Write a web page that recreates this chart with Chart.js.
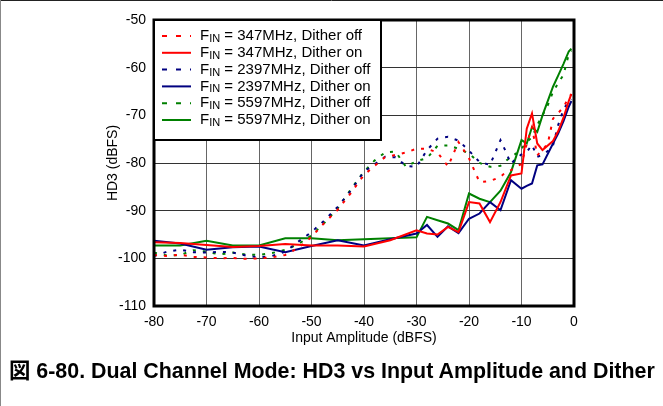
<!DOCTYPE html>
<html>
<head>
<meta charset="utf-8">
<script src="https://cdn.jsdelivr.net/npm/chart.js@4.4.0/dist/chart.umd.min.js"></script>
<style>
  html, body { margin: 0; padding: 0; background: #fff; }
  #wrap { position: relative; width: 663px; height: 406px; }
  #caption {
    position: absolute; left: 9px; top: 353px;
    font: bold 21.4px "Liberation Sans", "Noto Sans CJK JP", sans-serif;
    color: #000; white-space: nowrap;
  }
</style>
</head>
<body>
<div id="wrap">
  <canvas id="hd3" width="663" height="406"></canvas>
  <div id="caption">図 6-80. Dual Channel Mode: HD3 vs Input Amplitude and Dither</div>
</div>
<script>
// input amplitude (dBFS) where the dither-on sweeps were taken
const onX = [-80, -75, -70, -65, -60, -55, -50, -45, -40, -35, -30, -28, -26, -24, -22,
  -20, -18, -16, -14, -12, -10, -9, -8, -7, -6, -4, -3, -2, -1, -0.5];
// input amplitude for the dither-off sweeps
const offX = [-80, -77.5, -75, -72.5, -70, -67.5, -65, -62.5, -60, -57.5, -55, -52.5, -50,
  -47.5, -45, -42.5, -40, -38, -36, -34, -32, -30, -28, -26, -24, -22, -20, -18, -16, -14,
  -13, -12, -11, -10, -9, -8, -7, -6, -5, -4, -3, -2, -1, -0.5];

// HD3 (dBFS)
const hd3_347_off = [-99.3, -99.5, -99.2, -99.7, -99.8, -100, -99.9, -100.1, -100, -99.8, -99.3,
  -97.8, -95.5, -92.5, -89.8, -86.3, -82.5, -80.6, -78.8, -78.3, -77.8, -77, -77, -77.8, -80.7,
  -75.6, -79, -84, -83.8, -82.9, -81.9, -81.5, -80.8, -80.2, -76, -72.5, -78.4, -77.2, -76,
  -70.7, -69.5, -68.3, -66.2, -65.6];
const hd3_347_on = [-96.6, -96.8, -97.2, -97.6, -97.4, -97, -97.3, -97.3, -97.5, -96.2, -94.1,
  -94.8, -95, -93.4, -94.5, -88.2, -88.5, -92.4, -88.2, -82.6, -82.2, -72.8, -69.6, -75.9,
  -77.3, -75.4, -73.3, -70.5, -67, -65.5];
const hd3_2397_off = [-99.5, -98.6, -98.2, -98.7, -98.8, -98.6, -98.8, -99.4, -99.8, -99.5, -98.6,
  -96.5, -94.5, -92, -89.2, -85.8, -81.8, -80.3, -78.7, -78.8, -80.6, -80.8, -77.3, -74.9, -74.5,
  -75.3, -77.4, -79.8, -80.4, -75.2, -77.6, -80.2, -79, -78.2, -77.7, -76.2, -78.7, -78.3, -77.5,
  -76.3, -72, -68.8, -67, -66.6];
const hd3_2397_on = [-96.3, -96.9, -98.2, -97.7, -97.5, -98.7, -97.4, -96.2, -97.3, -96, -94.8,
  -93, -95.5, -93.3, -94.7, -91.7, -90.6, -88.2, -89.9, -83.6, -85.4, -84.8, -84.3, -80.5,
  -80.3, -75.9, -73.8, -71.2, -68.2, -67];
const hd3_5597_off = [-98.8, -99.4, -99.3, -98.3, -98.6, -99.2, -98.8, -99.2, -99.3, -98.9, -98.2,
  -97, -95.2, -92.5, -89.5, -85.5, -81.8, -79.5, -77.8, -77.6, -80.8, -79.6, -79, -76.4, -76.3,
  -77, -78, -80, -80.8, -80.6, -79.6, -78.7, -78, -77, -75.6, -74.6, -72, -70, -67.9, -65.1,
  -63.2, -61.5, -57.2, -56.4];
const hd3_5597_on = [-97.3, -97.3, -96.3, -97.3, -97.3, -95.8, -95.8, -96.2, -96, -95.8, -95.6,
  -91.3, -92, -92.7, -94.1, -86.4, -87.5, -88.2, -85.8, -81.9, -75.2, -75.9, -72.5, -73.5,
  -70, -64, -61.6, -59.2, -56.6, -56];

const xTicks = [-80, -70, -60, -50, -40, -30, -20, -10, 0];
const yTicks = [-110, -100, -90, -80, -70, -60, -50];

const RED = '#ff0000', BLUE = '#000080', GREEN = '#008000';
const FONT = '"Liberation Sans", Arial, sans-serif';

function pts(xs, ys) {
  return xs.map((x, i) => ({ x: x, y: ys[i] }));
}

function series(label, xs, ys, color, dotted) {
  return {
    label: label,
    data: pts(xs, ys),
    borderColor: color,
    backgroundColor: color,
    borderWidth: 2,
    borderDash: dotted ? [3, 7] : [],
    pointRadius: 0,
    tension: 0,
    dotted: dotted
  };
}

// frame round the plot + the figure's top/left rule
const framePlugin = {
  id: 'frame',
  beforeDraw(chart) {
    const ctx = chart.ctx;
    ctx.save();
    ctx.fillStyle = '#fff';
    ctx.fillRect(0, 0, chart.width, chart.height);
    ctx.strokeStyle = '#222';
    ctx.lineWidth = 1;
    ctx.beginPath();
    ctx.moveTo(0, 0.5); ctx.lineTo(chart.width, 0.5);
    ctx.stroke();
    ctx.strokeStyle = '#888';
    ctx.beginPath();
    ctx.moveTo(0.5, 0); ctx.lineTo(0.5, chart.height);
    ctx.stroke();
    ctx.restore();
  },
  afterDatasetsDraw(chart) {
    const a = chart.chartArea;
    const ctx = chart.ctx;
    ctx.save();
    ctx.strokeStyle = '#000';
    ctx.lineWidth = 3;
    ctx.strokeRect(a.left, a.top, a.right - a.left, a.bottom - a.top);
    ctx.restore();
  }
};

// legend with the IN subscript
const legendPlugin = {
  id: 'finLegend',
  afterDraw(chart) {
    const a = chart.chartArea;
    const ctx = chart.ctx;
    const sets = chart.data.datasets;
    const x0 = a.left, y0 = a.top, w = 227, rowH = 16.8;
    const h = 22 + rowH * (sets.length - 1) + 14;
    ctx.save();
    ctx.fillStyle = '#fff';
    ctx.fillRect(x0, y0, w, h);
    ctx.strokeStyle = '#000';
    ctx.lineWidth = 2;
    ctx.strokeRect(x0, y0, w, h);
    ctx.textBaseline = 'middle';
    sets.forEach((ds, i) => {
      const y = y0 + 16 + i * rowH;
      ctx.strokeStyle = ds.borderColor;
      ctx.lineWidth = 2;
      ctx.setLineDash(ds.dotted ? [5, 9] : []);
      ctx.beginPath();
      ctx.moveTo(x0 + 8, y);
      ctx.lineTo(x0 + 37, y);
      ctx.stroke();
      ctx.setLineDash([]);
      ctx.fillStyle = '#000';
      let tx = x0 + 46;
      ctx.font = '15px ' + FONT;
      ctx.fillText(ds.label.slice(0, 1), tx, y);
      tx += ctx.measureText(ds.label.slice(0, 1)).width;
      ctx.font = '11px ' + FONT;
      ctx.fillText(ds.label.slice(1, 3), tx, y + 3);
      tx += ctx.measureText(ds.label.slice(1, 3)).width;
      ctx.font = '15px ' + FONT;
      ctx.fillText(ds.label.slice(3), tx, y);
    });
    ctx.restore();
  }
};

new Chart(document.getElementById('hd3'), {
  type: 'line',
  data: {
    datasets: [
      series('FIN = 347MHz, Dither off', offX, hd3_347_off, RED, true),
      series('FIN = 347MHz, Dither on', onX, hd3_347_on, RED, false),
      series('FIN = 2397MHz, Dither off', offX, hd3_2397_off, BLUE, true),
      series('FIN = 2397MHz, Dither on', onX, hd3_2397_on, BLUE, false),
      series('FIN = 5597MHz, Dither off', offX, hd3_5597_off, GREEN, true),
      series('FIN = 5597MHz, Dither on', onX, hd3_5597_on, GREEN, false)
    ]
  },
  options: {
    responsive: false,
    animation: false,
    devicePixelRatio: 1,
    layout: { padding: { left: 100, right: 89, top: 20, bottom: 58 } },
    plugins: {
      legend: { display: false },
      tooltip: { enabled: false }
    },
    scales: {
      x: {
        type: 'linear',
        min: -80, max: 0,
        afterFit(scale) { scale.height = 42; },
        afterBuildTicks(scale) { scale.ticks = xTicks.map(v => ({ value: v })); },
        grid: { color: '#666', lineWidth: 1, drawTicks: false },
        border: { display: false },
        ticks: { color: '#000', padding: 8, font: { family: FONT, size: 14 } },
        title: {
          display: true, text: 'Input Amplitude (dBFS)', color: '#000',
          font: { family: FONT, size: 14 }, padding: { top: 0, bottom: 1 }
        }
      },
      y: {
        type: 'linear',
        min: -110, max: -50,
        afterFit(scale) { scale.width = 54; },
        afterBuildTicks(scale) { scale.ticks = yTicks.map(v => ({ value: v })); },
        grid: { color: '#333', lineWidth: 1, drawTicks: false },
        border: { display: false },
        ticks: { color: '#000', padding: 8, font: { family: FONT, size: 14 } },
        title: {
          display: true, text: 'HD3 (dBFS)', color: '#000',
          font: { family: FONT, size: 14 }, padding: { top: 5, bottom: 0 }
        }
      }
    }
  },
  plugins: [framePlugin, legendPlugin]
});
</script>
</body>
</html>
